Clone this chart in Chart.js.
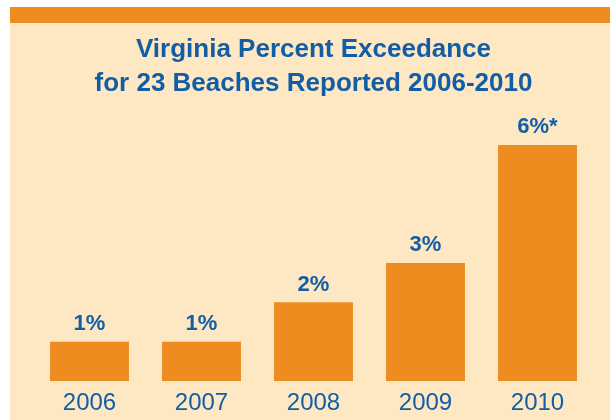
<!DOCTYPE html>
<html>
<head>
<meta charset="utf-8">
<script src="https://cdn.jsdelivr.net/npm/chart.js@4/dist/chart.umd.min.js"></script>
<style>
  html, body { margin: 0; padding: 0; background: #fff; }
  #wrap { position: relative; width: 610px; height: 420px; overflow: hidden; }
  #panel {
    position: absolute; left: 10px; top: 7px; width: 600px; height: 397px;
    background: #fee8c4; border-top: 16px solid #ef8c1f;
  }
  #grafico { position: absolute; left: 0; top: 0; }
</style>
</head>
<body>
<div id="wrap">
  <div id="panel"></div>
  <canvas id="grafico" width="610" height="420"></canvas>
</div>
<script>
const anos = ["2006", "2007", "2008", "2009", "2010"];
const percentuais = [1, 1, 2, 3, 6];
const rotulos = ["1%", "1%", "2%", "3%", "6%*"];
const titulo = ["Virginia Percent Exceedance", "for 23 Beaches Reported 2006-2010"];

const azul = "#115ea7";
const laranja = "#ef8c1f";

// escreve o valor em cima de cada barra
const rotulosPlugin = {
  id: "rotulos",
  afterDatasetsDraw(chart) {
    const ctx = chart.ctx;
    const meta = chart.getDatasetMeta(0);
    ctx.save();
    ctx.fillStyle = azul;
    ctx.font = "bold 22px 'Liberation Sans', Arial, sans-serif";
    ctx.textAlign = "center";
    ctx.textBaseline = "alphabetic";
    meta.data.forEach((bar, i) => {
      ctx.fillText(rotulos[i], bar.x, bar.y - 11.5);
    });
    ctx.restore();
  }
};

new Chart(document.getElementById("grafico").getContext("2d"), {
  type: "bar",
  data: {
    labels: anos,
    datasets: [{
      data: percentuais,
      backgroundColor: laranja,
      barPercentage: 0.705,
      categoryPercentage: 1
    }]
  },
  options: {
    responsive: false,
    animation: false,
    layout: { padding: { left: 33.5, right: 16.5, top: 0, bottom: 0 } },
    plugins: {
      legend: { display: false },
      tooltip: { enabled: false },
      title: {
        display: true,
        text: titulo,
        color: azul,
        font: { family: "'Liberation Sans', Arial, sans-serif", size: 26, weight: "bold", lineHeight: 34 / 26 },
        padding: { top: 33, bottom: 24.3 }
      }
    },
    scales: {
      x: {
        grid: { display: false, drawTicks: false, tickLength: 0 },
        border: { display: false },
        ticks: {
          color: azul,
          padding: 8,
          font: { family: "'Liberation Sans', Arial, sans-serif", size: 24 }
        },
        afterFit(scale) { scale.height = 39; }
      },
      y: {
        display: false,
        min: 0,
        max: 6.5
      }
    }
  },
  plugins: [rotulosPlugin]
});
</script>
</body>
</html>
